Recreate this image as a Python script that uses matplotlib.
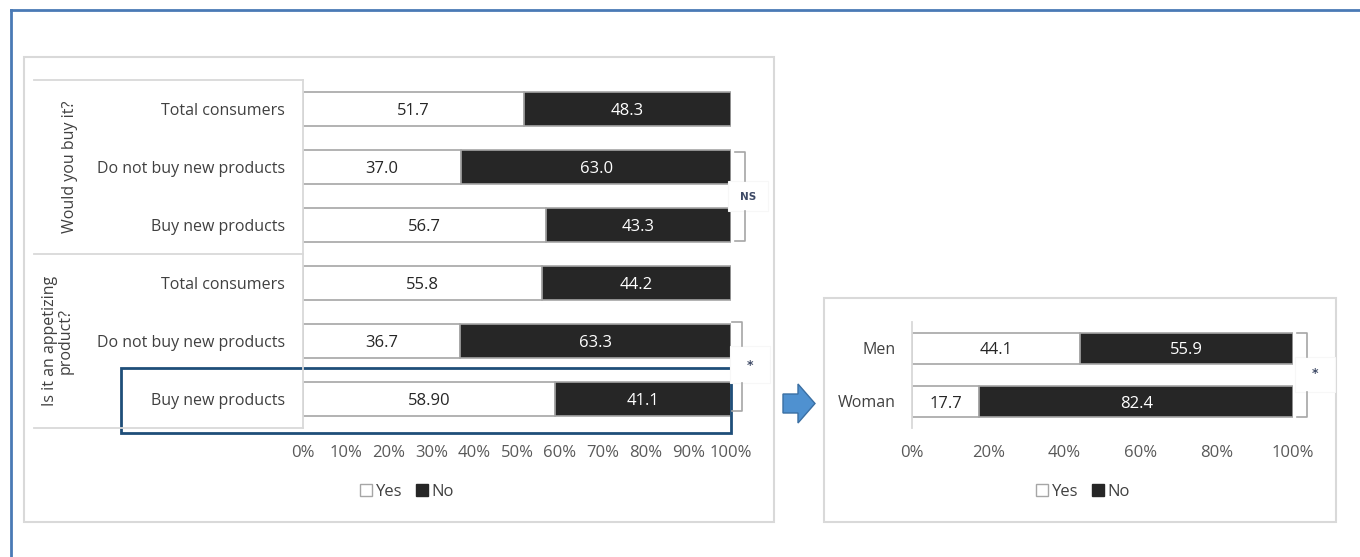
import matplotlib
matplotlib.use("Agg")
import matplotlib.pyplot as plt
from matplotlib.patches import Rectangle, Polygon
from matplotlib.lines import Line2D

plt.rcParams['font.family'] = ['Open Sans', 'DejaVu Sans']

# left chart: purchase intention / appetite by consumer type
groups = ["Would you buy it?", "Is it an appetizing\nproduct?"]
categories = ["Total consumers", "Do not buy new products", "Buy new products",
              "Total consumers", "Do not buy new products", "Buy new products"]
yes_vals = [51.7, 37.0, 56.7, 55.8, 36.7, 58.90]
no_vals = [48.3, 63.0, 43.3, 44.2, 63.3, 41.1]
yes_labels = ["51.7", "37.0", "56.7", "55.8", "36.7", "58.90"]

# right chart: by gender
genders = ["Men", "Woman"]
g_yes = [44.1, 17.7]
g_no = [55.9, 82.4]

W, H = 1360, 557
fig = plt.figure(figsize=(W / 100, H / 100), dpi=100)


def fx(x):
    return x / W


def fy(y):
    return 1 - y / H


def hline(x0, x1, y, **kw):
    fig.add_artist(Line2D([fx(x0), fx(x1)], [fy(y), fy(y)], **kw))


def vline(x, y0, y1, **kw):
    fig.add_artist(Line2D([fx(x), fx(x)], [fy(y0), fy(y1)], **kw))


def box(x0, y0, x1, y1, **kw):
    fig.add_artist(Rectangle((fx(x0), fy(y1)), fx(x1) - fx(x0), fy(y0) - fy(y1), **kw))


# outer blue frame (only top and left visible)
hline(11, 1360, 10, color="#4a7ab5", lw=2)
vline(11, 10, 557, color="#4a7ab5", lw=2)

# chart frames
box(24, 57, 774, 522, fill=False, ec="#d9d9d9", lw=1.5)
box(824, 298, 1336, 522, fill=False, ec="#d9d9d9", lw=1.5)

GREY_EDGE = "#a6a6a6"
DARK = "#262626"
TXT = "#404040"


def stacked(ax, yes, no, labels, height):
    pos = range(len(yes))
    ax.barh(pos, yes, height=height, color="white", edgecolor=GREY_EDGE, lw=1.2)
    ax.barh(pos, no, left=yes, height=height, color=DARK, edgecolor=GREY_EDGE, lw=1.2)
    for i, (y, n) in enumerate(zip(yes, no)):
        ax.text(y / 2, i, labels[i], ha="center", va="center_baseline", fontsize=12, color="#262626")
        ax.text(y + n / 2, i, f"{n:.1f}", ha="center", va="center_baseline", fontsize=12, color="white")
    ax.set_xlim(0, 100)
    ax.set_ylim(len(yes) - 0.5, -0.5)
    for s in ax.spines.values():
        s.set_visible(False)
    ax.set_yticks([])
    ax.tick_params(axis="x", length=0, pad=12, labelsize=12, labelcolor="#595959")
    ax.xaxis.set_major_formatter(matplotlib.ticker.FuncFormatter(lambda v, p: f"{v:.0f}%"))


def yes_no_legend(ax, xc):
    ax.legend(handles=[
        Line2D([], [], marker="s", ls="", mfc="white", mec=GREY_EDGE, ms=9, label="Yes"),
        Line2D([], [], marker="s", ls="", mfc=DARK, mec=DARK, ms=9, label="No")],
        loc="center", bbox_to_anchor=(fx(xc), fy(492)), bbox_transform=fig.transFigure, ncol=2,
        frameon=False, fontsize=12, handlelength=0.7, handletextpad=0.25, columnspacing=0.8,
        labelcolor=TXT)


# left axes
ax1 = fig.add_axes([fx(303), fy(428), fx(731) - fx(303), fy(80) - fy(428)])
stacked(ax1, yes_vals, no_vals, yes_labels, 0.57)
ax1.set_xticks(range(0, 101, 10))

# category table on the left
LINE = "#d9d9d9"
for y in (80, 254, 428):
    hline(34, 303, y, color=LINE, lw=1.3)
vline(303, 80, 428, color=LINE, lw=1.3)
for i, c in enumerate(categories):
    fig.text(fx(285), fy(109 + 58 * i), c, ha="right", va="center_baseline", fontsize=11.5, color=TXT)
fig.text(fx(70), fy(167), groups[0], rotation=90, ha="center", va="center", fontsize=11.5, color=TXT)
fig.text(fx(58), fy(341), groups[1], rotation=90, ha="center", va="center", fontsize=11.5,
         color=TXT, multialignment="center", linespacing=1.0)

# highlighted row
box(121, 368, 731, 433, fill=False, ec="#1f4e79", lw=2)

# significance brackets
BR = "#a6a6a6"


def bracket(x, y0, y1, gap0, gap1, text, tx, ty, **tkw):
    fig.add_artist(Line2D([fx(x - 10), fx(x), fx(x)], [fy(y0), fy(y0), fy(gap0)], color=BR, lw=1.2))
    fig.add_artist(Line2D([fx(x - 10), fx(x), fx(x)], [fy(y1), fy(y1), fy(gap1)], color=BR, lw=1.2))
    box(tx - 20, gap0, tx + 20, gap1, fc="white", ec="#f7f7f7", lw=0.8)
    fig.text(fx(tx), fy(ty), text, ha="center", va="center", **tkw)


bracket(745, 152, 241, 181, 211, "NS", 748, 197, fontsize=7.5, fontweight="bold",
        color="#3e4a66", family="DejaVu Sans")
bracket(742, 322, 411, 346, 383, "*", 750, 366, fontsize=9, fontweight="bold", color="#3e4a66",
        family="DejaVu Sans")

yes_no_legend(ax1, 407)

# block arrow between the two charts
arrow_pts = [(783, 394), (798, 394), (798, 384), (815, 403.5), (798, 423), (798, 413), (783, 413)]
fig.add_artist(Polygon([(fx(x), fy(y)) for x, y in arrow_pts], closed=True,
                       fc="#4f91d0", ec="#3a6fa3", lw=1))

# right axes
ax2 = fig.add_axes([fx(912), fy(428), fx(1293) - fx(912), fy(322) - fy(428)])
stacked(ax2, g_yes, g_no, [f"{v:.1f}" for v in g_yes], 0.58)
ax2.set_xticks(range(0, 101, 20))
vline(912, 322, 428, color=LINE, lw=1.3)
for i, g in enumerate(genders):
    fig.text(fx(896), fy(348 + 53 * i), g, ha="right", va="center_baseline", fontsize=11.5, color=TXT)
bracket(1307, 333, 417, 357, 392, "*", 1315, 374, fontsize=9, fontweight="bold", color="#3e4a66",
        family="DejaVu Sans")

yes_no_legend(ax2, 1083)

fig.savefig("out.png", dpi=100)
